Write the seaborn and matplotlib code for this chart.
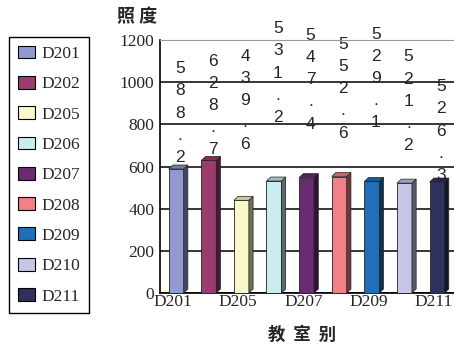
import matplotlib
matplotlib.use("Agg")
import matplotlib.pyplot as plt
from matplotlib.patches import Patch, Polygon
from matplotlib.colors import to_rgb
import seaborn as sns

# Illuminance per classroom
rooms = ["D201", "D202", "D205", "D206", "D207", "D208", "D209", "D210", "D211"]
lux = [588.2, 628.7, 439.6, 531.2, 547.4, 552.6, 529.1, 521.2, 526.3]
colors = ["#9099d2", "#9a3d6e", "#f8f8c8", "#c8ecf0", "#6a2a72",
          "#f28088", "#2070b8", "#c6c6e6", "#30305e"]
y_ticks = [0, 200, 400, 600, 800, 1000, 1200]
x_labels = ["D201", "", "D205", "", "D207", "", "D209", "", "D211"]
# vertical lift (pixels) of each stacked value label above its column
label_lift = [4, 3, 48, 56, 46, 36, 51, 30, -1]

sns.set_theme(style="white")
plt.rcParams["font.family"] = ["Liberation Serif", "DejaVu Sans"]

fig = plt.figure(figsize=(4.54, 3.48), dpi=100)
ax = fig.add_axes([0.352, 0.158, 0.648, 0.727])

sns.barplot(x=rooms, y=lux, hue=rooms, palette=colors, width=0.46,
            saturation=1, legend=False, ax=ax,
            edgecolor="#222222", linewidth=0.6, zorder=3)

ax.set_xlim(-0.5, 8.52)
ax.set_ylim(0, 1200)

# pseudo-3D depth of each column: side and top faces
dx, dy = 0.13, 19
for patch, c in zip(ax.patches, colors):
    x0 = patch.get_x()
    w = patch.get_width()
    h = patch.get_height()
    r, g, b = to_rgb(c)
    side = (r * 0.45, g * 0.45, b * 0.45)
    top = (r * 0.8, g * 0.8, b * 0.8)
    ax.add_patch(Polygon([(x0 + w, 0), (x0 + w + dx, dy), (x0 + w + dx, h + dy), (x0 + w, h)],
                         closed=True, facecolor=side, edgecolor="#222222", lw=0.5, zorder=3))
    ax.add_patch(Polygon([(x0, h), (x0 + dx, h + dy), (x0 + w + dx, h + dy), (x0 + w, h)],
                         closed=True, facecolor=top, edgecolor="#222222", lw=0.5, zorder=3))

# stacked (one character per line) value labels
for patch, v, lift in zip(ax.patches, lux, label_lift):
    xc = patch.get_x() + patch.get_width() / 2 + 0.12
    ax.annotate("\n".join(f"{v:.1f}"), (xc, v), xytext=(0, lift),
                textcoords="offset pixels", ha="center", va="bottom",
                fontsize=12.5, family="Liberation Sans", linespacing=1.6,
                annotation_clip=False, zorder=2)

ax.set_yticks(y_ticks)
ax.set_yticklabels([str(t) for t in y_ticks], fontsize=12.5)
# category labels sit slightly left of the column centres
ax.set_xticks([i - 0.1 for i in range(len(rooms))])
ax.set_xticklabels(x_labels, fontsize=12.5)
ax.set_xlabel("")
ax.set_ylabel("")
ax.grid(axis="y", color="black", lw=1.1, zorder=0)
ax.set_axisbelow(True)
ax.tick_params(axis="y", direction="out", length=3, width=1, pad=1, color="black")
ax.tick_params(axis="x", length=0, pad=1)
for side_name in ["left", "bottom"]:
    ax.spines[side_name].set_color("black")
    ax.spines[side_name].set_linewidth(1.2)
ax.spines["top"].set_color("#999999")
ax.spines["top"].set_linewidth(0.8)
ax.spines["right"].set_visible(False)

handles = [Patch(facecolor=c, edgecolor="black", lw=0.8) for c in colors]
leg = fig.legend(handles, rooms, loc="upper left",
                 bbox_to_anchor=(9 / 454, 1 - 37 / 348),
                 frameon=True, fancybox=False, framealpha=1, edgecolor="black",
                 prop={"family": "Liberation Serif", "size": 12.5},
                 handlelength=1.0, handleheight=0.75, handletextpad=0.35,
                 labelspacing=0.8, borderpad=0.5, borderaxespad=0)
leg.get_frame().set_linewidth(1.0)

cjk = ["Noto Sans CJK SC", "DejaVu Sans"]
fig.text(137 / 454, 1 - 17 / 348, "照 度", ha="center", va="center",
         fontsize=13, fontweight="bold", family=cjk)
fig.text(302 / 454, 1 - 335 / 348, "教  室  别", ha="center", va="center",
         fontsize=12.5, fontweight="bold", family=cjk)

fig.savefig("out.png", dpi=100)
